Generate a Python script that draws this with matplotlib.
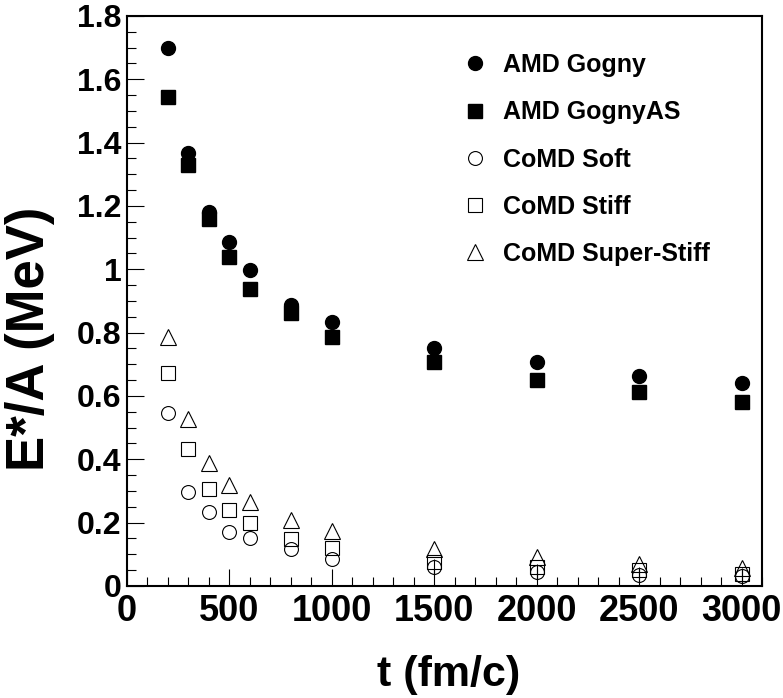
import matplotlib
matplotlib.use("Agg")
import matplotlib.pyplot as plt
from matplotlib.ticker import MultipleLocator, FormatStrFormatter

plt.rcParams['font.family'] = ['Liberation Sans', 'DejaVu Sans']
plt.rcParams['font.weight'] = 'bold'

# Time steps (fm/c)
t = [200, 300, 400, 500, 600, 800, 1000, 1500, 2000, 2500, 3000]

# Excitation energy per nucleon (MeV)
amd_gogny = [1.70, 1.367, 1.181, 1.086, 0.998, 0.887, 0.834, 0.752, 0.707, 0.663, 0.641]
amd_gogny_as = [1.544, 1.33, 1.159, 1.039, 0.938, 0.862, 0.786, 0.707, 0.65, 0.613, 0.581]
comd_soft = [0.547, 0.296, 0.233, 0.17, 0.153, 0.116, 0.085, 0.061, 0.043, 0.035, 0.033]
comd_soft_err = [0, 0, 0, 0, 0, 0, 0, 0.025, 0.025, 0.025, 0.025]
comd_stiff = [0.672, 0.432, 0.305, 0.241, 0.198, 0.147, 0.12, 0.077, 0.061, 0.049, 0.038]
comd_superstiff = [0.785, 0.528, 0.387, 0.32, 0.265, 0.208, 0.174, 0.117, 0.09, 0.069, 0.056]

fig = plt.figure(figsize=(7.83, 6.98), dpi=100)
ax = fig.add_axes([0.1622, 0.1605, 0.811, 0.8166])

# AMD results (filled markers)
ax.plot(t, amd_gogny, 'o', color='black', ms=10, ls='none', label='AMD Gogny')
ax.plot(t, amd_gogny_as, 's', color='black', ms=10, ls='none', label='AMD GognyAS')

# CoMD results (open markers); soft has small error bars at late times
ax.errorbar(t, comd_soft, yerr=comd_soft_err, fmt='none', ecolor='black',
            elinewidth=0.8, capsize=0)
ax.plot(t, comd_soft, 'o', mfc='none', mec='black', ms=10, mew=0.8, ls='none', label='CoMD Soft')
ax.plot(t, comd_stiff, 's', mfc='none', mec='black', ms=10, mew=0.8, ls='none', label='CoMD Stiff')
ax.plot(t, comd_superstiff, '^', mfc='none', mec='black', ms=11, mew=0.8, ls='none',
        label='CoMD Super-Stiff')

ax.set_xlim(0, 3100)
ax.set_ylim(0, 1.8)

ax.xaxis.set_major_locator(MultipleLocator(500))
ax.xaxis.set_minor_locator(MultipleLocator(100))
ax.yaxis.set_major_locator(MultipleLocator(0.2))
ax.yaxis.set_minor_locator(MultipleLocator(0.05))
ax.yaxis.set_major_formatter(FormatStrFormatter('%g'))

ax.tick_params(which='both', direction='in', top=False, right=False, width=0.8)
ax.tick_params(which='major', length=12)
ax.tick_params(which='minor', length=6.5)
ax.tick_params(axis='x', labelsize=26, pad=6)
ax.tick_params(axis='y', labelsize=23, pad=4)
for s in ax.spines.values():
    s.set_linewidth(1.5)

ax.set_xlabel('t (fm/c)', fontsize=31, fontweight='bold', va='center')
ax.xaxis.set_label_coords(0.507, -0.157)
ax.set_ylabel('E*/A (MeV)', fontsize=38, fontweight='bold', va='center')
ax.yaxis.set_label_coords(-0.152, 0.433)

ax.legend(loc='upper left', bbox_to_anchor=(0.5907, 0.924), bbox_transform=fig.transFigure,
          frameon=False, fontsize=18, numpoints=1, handlelength=1.0, handletextpad=0.62,
          borderpad=0, borderaxespad=0, labelspacing=0.93)

fig.savefig('out.png', dpi=100)
